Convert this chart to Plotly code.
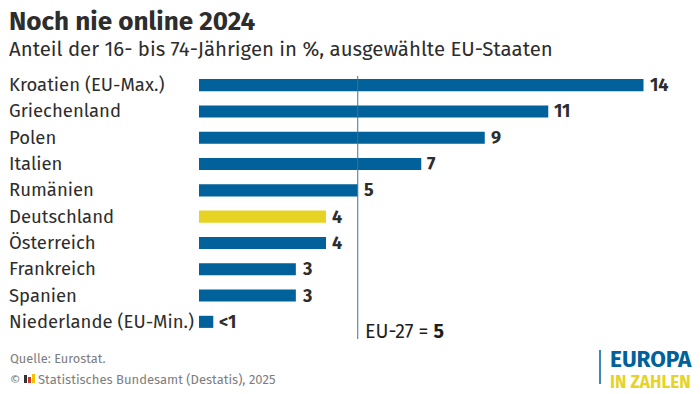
import plotly.graph_objects as go

categories = ["Kroatien (EU-Max.)", "Griechenland", "Polen", "Italien", "Rumänien",
              "Deutschland", "Österreich", "Frankreich", "Spanien", "Niederlande (EU-Min.)"]
values = [14, 11, 9, 7, 5, 4, 4, 3.05, 3.05, 0.45]
value_labels = ["14", "11", "9", "7", "5", "4", "4", "3", "3", "&lt;1"]
highlight = "Deutschland"
eu_value = 5

W, H = 700, 394
L, R, T, B = 199, 0, 72, 59
FONT = "Fira Sans, Noto Sans, sans-serif"
BLUE, YELLOW, DARK, GREY = "#00619b", "#e6d324", "#2d2d2d", "#7d7d7d"

pw, ph = W - L - R, H - T - B
def ax(x): return (x - L) / pw
def ay(y): return (H - B - y) / ph

fig = go.Figure(go.Bar(
    x=values, y=categories, orientation="h",
    marker=dict(color=[YELLOW if c == highlight else BLUE for c in categories], line_width=0),
    hoverinfo="skip", showlegend=False,
))

ann = []
for c, v, l in zip(categories, values, value_labels):
    ann.append(dict(x=ax(7), y=c, xref="paper", yref="y", text=c, showarrow=False,
                    xanchor="left", yanchor="middle", font=dict(family=FONT, size=18.5, color=DARK)))
    ann.append(dict(x=v, y=c, xref="x", yref="y", text=f"<b>{l}</b>", showarrow=False, xanchor="left",
                    xshift=4, yanchor="middle", font=dict(family=FONT, size=18, color=DARK)))

ann.append(dict(x=eu_value, xref="x", xshift=5, y=ay(331), yref="paper", yanchor="middle", xanchor="left",
                showarrow=False, text=f"EU-27 = <b>{eu_value}</b>",
                font=dict(family=FONT, size=19.6, color="#1e1e1e")))

page_texts = [
    (7, 22, "<b>Noch nie online 2024</b>", 26.1, DARK),
    (7, 49, "Anteil der 16- bis 74-Jährigen in %, ausgewählte EU-Staaten", 20.4, DARK),
    (8, 358, "Quelle: Eurostat.", 12.8, GREY),
    (8, 379, "©", 12.8, GREY),
    (36, 379, "Statistisches Bundesamt (Destatis), 2025", 13, GREY),
]
for x, y, t, s, col in page_texts:
    ann.append(dict(x=ax(x), y=ay(y), xref="paper", yref="paper", text=t, showarrow=False, xanchor="left",
                    yanchor="middle", font=dict(family=FONT, size=s, color=col)))

logo = (f"<b><span style='color:{BLUE};font-size:22.6px'>EUROPA</span><br>"
        f"<span style='color:{YELLOW};font-size:17.2px'>IN ZAHLEN</span></b>")
ann.append(dict(x=ax(608), y=ay(369), xref="paper", yref="paper", text=logo, showarrow=False, xanchor="left",
                yanchor="middle", align="left", font=dict(family=FONT, size=16, color=BLUE)))

shapes = [
    dict(type="line", xref="x", x0=eu_value, x1=eu_value, yref="paper", y0=ay(339), y1=ay(76),
         line=dict(color="#3f7396", width=1)),
    dict(type="line", xref="paper", x0=ax(600), x1=ax(600), yref="paper", y0=ay(350), y1=ay(384),
         line=dict(color=BLUE, width=1.5)),
]
# small Destatis flag mark
for x0, x1, y0, col in [(24, 27, 375, "#333333"), (28, 31, 377, "#d0342c"), (32, 35, 374, "#f2c200")]:
    shapes.append(dict(type="rect", xref="paper", yref="paper", x0=ax(x0), x1=ax(x1), y0=ay(383), y1=ay(y0),
                       fillcolor=col, line_width=0))

fig.update_layout(
    width=W, height=H, margin=dict(l=L, r=R, t=T, b=B, pad=0),
    paper_bgcolor="white", plot_bgcolor="white", bargap=0.54,
    xaxis=dict(range=[0, pw / 31.75], visible=False, fixedrange=True),
    yaxis=dict(type="category", categoryorder="array", categoryarray=categories, autorange="reversed",
               visible=False, fixedrange=True),
    annotations=ann, shapes=shapes,
)
fig.write_html("out.html", config={"displayModeBar": False},
               post_script="document.body.style.margin='0';document.documentElement.style.overflow='hidden';")
